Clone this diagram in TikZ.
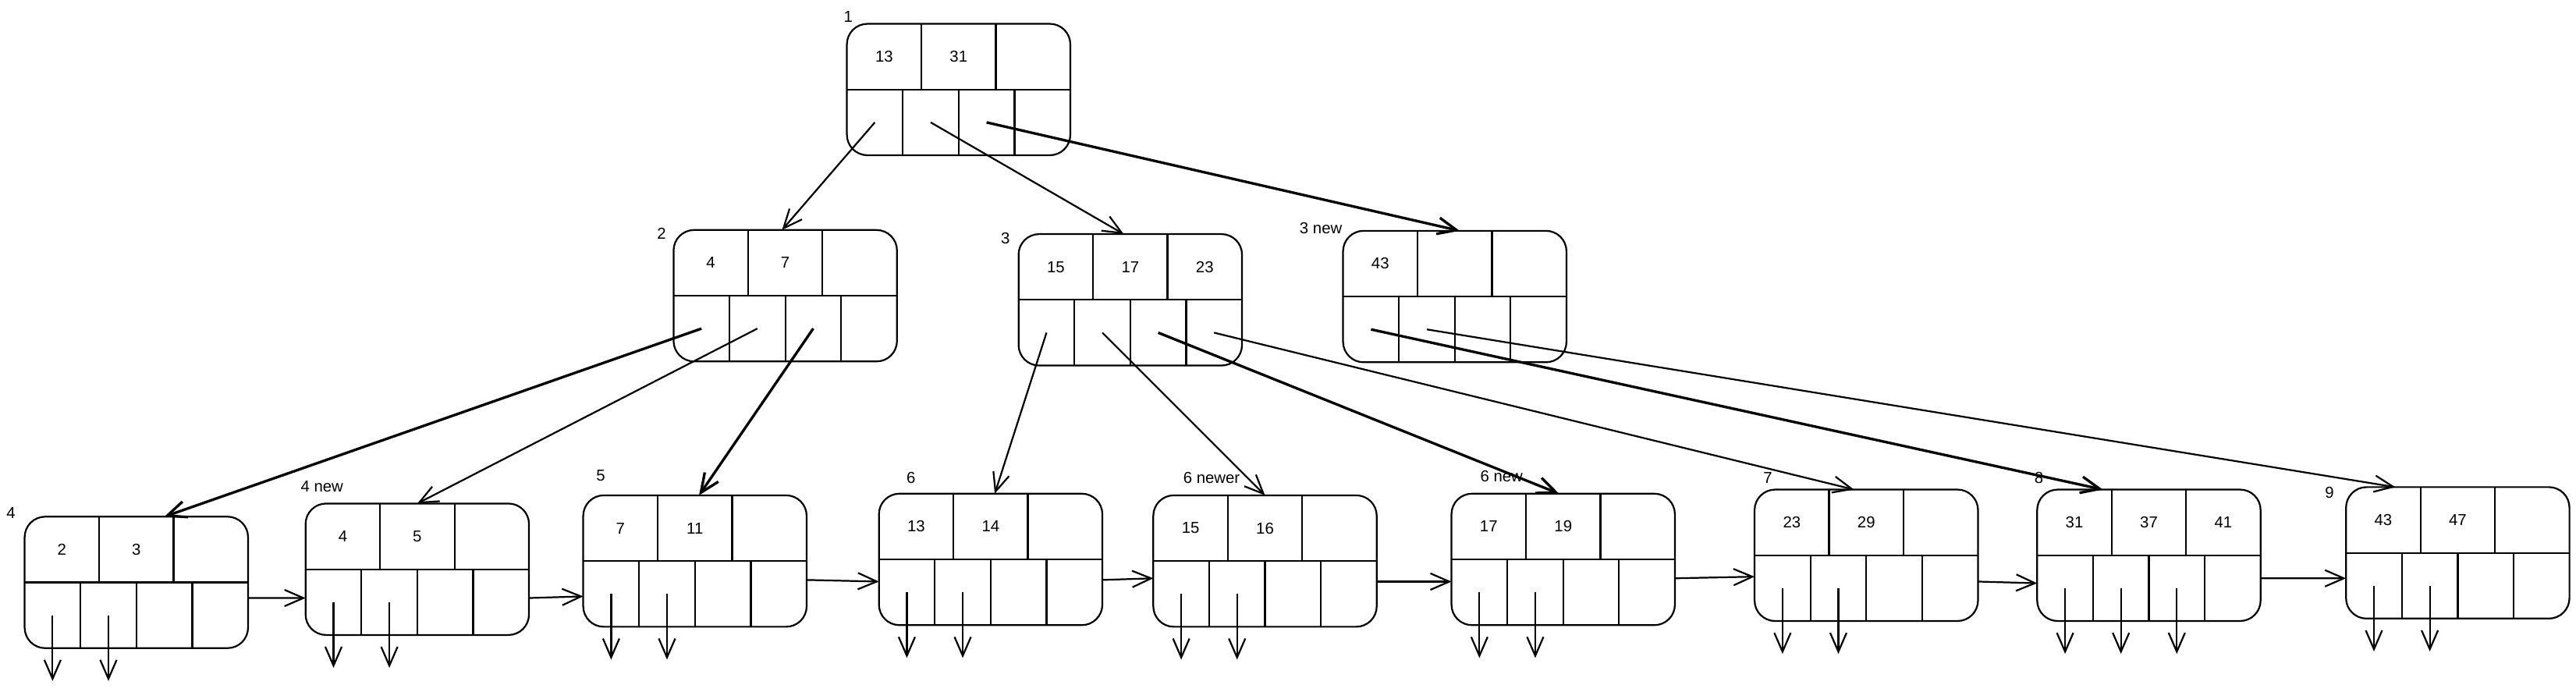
\documentclass[tikz,border=0pt]{standalone}
\usepackage{fontspec}
\setmainfont{Liberation Sans}
\usetikzlibrary{arrows.meta, calc}

% one B-tree page: name, centre x, centre y, three keys
\newcommand{\bnode}[6]{%
  \node[bbox] (#1) at (#2,#3) {};
  \draw (#1.west) -- (#1.east);
  \draw ($(#1.north west)!1/3!(#1.north east)$) -- ($(#1.west)!1/3!(#1.east)$);
  \draw ($(#1.north west)!2/3!(#1.north east)$) -- ($(#1.west)!2/3!(#1.east)$);
  \draw ($(#1.west)!.25!(#1.east)$) -- ($(#1.south west)!.25!(#1.south east)$);
  \draw ($(#1.west)!.50!(#1.east)$) -- ($(#1.south west)!.50!(#1.south east)$);
  \draw ($(#1.west)!.75!(#1.east)$) -- ($(#1.south west)!.75!(#1.south east)$);
  \node[keytext] (#1a) at ($(#1)+(-45.33,-20)$) {#4};
  \node[keytext] (#1b) at ($(#1)+(0,-20)$) {#5};
  \node[keytext] (#1c) at ($(#1)+(45.33,-20)$) {#6};
  \coordinate (#1p1) at ($(#1)+(-51,20)$);
  \coordinate (#1p2) at ($(#1)+(-17,20)$);
  \coordinate (#1p3) at ($(#1)+(17,20)$);
  \coordinate (#1p4) at ($(#1)+(51,20)$);
  \coordinate (#1d1) at ($(#1p1)+(0,40)$);
  \coordinate (#1d2) at ($(#1p2)+(0,40)$);
  \coordinate (#1d3) at ($(#1p3)+(0,40)$);
}

\begin{document}
\begin{tikzpicture}[x=0.2mm,y=-0.2mm,
>={Straight Barb[length=2.3mm,width=2mm]},line width=0.6pt,black,
bbox/.style={draw,rounded corners=2.5mm,minimum width=27.2mm,minimum height=16mm,inner sep=0pt,outer sep=0pt},
keytext/.style={font=\fontsize{5.5}{6.5}\selectfont,inner sep=0pt},
nodetag/.style={font=\fontsize{5.5}{6.5}\selectfont,inner sep=0pt},
heavy/.style={line width=0.9pt}]

  \useasboundingbox (0,0) rectangle (1568,421);

  % root
  \bnode{n1}{583.5}{54.5}{13}{31}{}
  % inner pages
  \bnode{n2}{478}{180}{4}{7}{}
  \bnode{n3}{688}{182.5}{15}{17}{23}
  \bnode{n3n}{885.5}{180.5}{43}{}{}
  % leaves
  \bnode{n4}{83}{354.5}{2}{3}{}
  \bnode{n4n}{254}{346.5}{4}{5}{}
  \bnode{n5}{423}{341.5}{7}{11}{}
  \bnode{n6}{603}{340.5}{13}{14}{}
  \bnode{n6r}{770}{341.5}{15}{16}{}
  \bnode{n6n}{951.5}{340.5}{17}{19}{}
  \bnode{n7}{1136}{338}{23}{29}{}
  \bnode{n8}{1308}{338}{31}{37}{41}
  \bnode{n9}{1496}{336.5}{43}{47}{}

  % page numbers
  \node[nodetag] (n1tag)  at (516.3,10.3) {1};
  \node[nodetag] (n2tag)  at (402.7,142)  {2};
  \node[nodetag] (n3tag)  at (612,145)    {3};
  \node[nodetag] (n3ntag) at (804,139)    {3 new};
  \node[nodetag] (n4tag)  at (6.7,312)    {4};
  \node[nodetag] (n4ntag) at (196,296)    {4 new};
  \node[nodetag] (n5tag)  at (365.7,289.3) {5};
  \node[nodetag] (n6tag)  at (554.5,291)  {6};
  \node[nodetag] (n6rtag) at (737.5,291)  {6 newer};
  \node[nodetag] (n6ntag) at (914,290)    {6 new};
  \node[nodetag] (n7tag)  at (1076,291)   {7};
  \node[nodetag] (n8tag)  at (1241,291)   {8};
  \node[nodetag] (n9tag)  at (1418,300)   {9};

  % child pointers
  \draw[->] (n1p1) -- ([xshift=-0.4mm]n2.north);
  \draw[->] (n1p2) -- ([xshift=-0.8mm]n3.north);
  \draw[->,heavy] (n1p3) -- ([xshift=0.6mm]n3n.north);

  \draw[->,heavy] (n2p1) -- ([xshift=3.4mm]n4.north);
  \draw[->] (n2p2) -- (n4n.north);
  \draw[->,heavy] (n2p3) -- ([xshift=0.5mm]n5.north);

  \draw[->] (n3p1) -- ([xshift=0.5mm]n6.north);
  \draw[->] (n3p2) -- (n6r.north);
  \draw[->,heavy] (n3p3) -- ([xshift=-0.5mm]n6n.north);
  \draw[->] (n3p4) -- ([xshift=-1.5mm]n7.north);

  \draw[->,heavy] (n3np1) -- ([xshift=-5.6mm]n8.north);
  \draw[->] (n3np2) -- ([xshift=-7.6mm]n9.north);

  % leaf chain
  \draw[->] ([yshift=-1.9mm]n4.east)  -- ([yshift=-3.5mm]n4n.west);
  \draw[->] ([yshift=-3.5mm]n4n.east) -- ([yshift=-4.3mm]n5.west);
  \draw[->] ([yshift=-2.3mm]n5.east)  -- ([yshift=-2.7mm]n6.west);
  \draw[->] ([yshift=-2.5mm]n6.east)  -- ([yshift=-2.1mm]n6r.west);
  \draw[->] ([yshift=-2.5mm]n6r.east) -- ([yshift=-2.7mm]n6n.west);
  \draw[->] ([yshift=-2.3mm]n6n.east) -- ([yshift=-2.6mm]n7.west);
  \draw[->] ([yshift=-3.2mm]n7.east)  -- ([yshift=-3.4mm]n8.west);
  \draw[->] ([yshift=-2.8mm]n8.east)  -- ([yshift=-3.1mm]n9.west);

  % record pointers
  \draw[->] (n4p1) -- (n4d1);   \draw[->] (n4p2) -- (n4d2);
  \draw[->] (n4np1) -- (n4nd1); \draw[->] (n4np2) -- (n4nd2);
  \draw[->] (n5p1) -- (n5d1);   \draw[->] (n5p2) -- (n5d2);
  \draw[->] (n6p1) -- (n6d1);   \draw[->] (n6p2) -- (n6d2);
  \draw[->] (n6rp1) -- (n6rd1); \draw[->] (n6rp2) -- (n6rd2);
  \draw[->] (n6np1) -- (n6nd1); \draw[->] (n6np2) -- (n6nd2);
  \draw[->] (n7p1) -- (n7d1);   \draw[->] (n7p2) -- (n7d2);
  \draw[->] (n8p1) -- (n8d1);   \draw[->] (n8p2) -- (n8d2);   \draw[->] (n8p3) -- (n8d3);
  \draw[->] (n9p1) -- (n9d1);   \draw[->] (n9p2) -- (n9d2);
\end{tikzpicture}
\end{document}
